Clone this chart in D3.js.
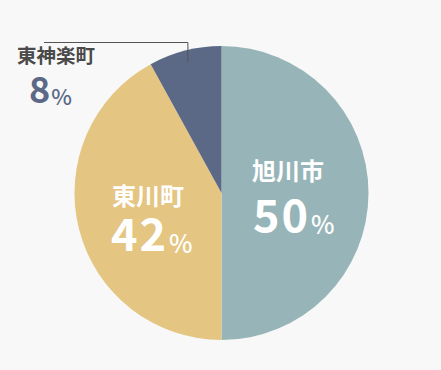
<!DOCTYPE html>
<html>
<head>
<meta charset="utf-8">
<script src="https://cdn.jsdelivr.net/npm/d3@7"></script>
<style>
  html, body { margin: 0; padding: 0; background: #f8f8f8; }
  svg { display: block; font-family: "Noto Sans CJK JP", "Noto Sans", sans-serif; }
</style>
</head>
<body>
<div id="pieChart"></div>
<script>
var labels = ["旭川市", "東川町", "東神楽町"];
var values = [50, 42, 8];
var colors = ["#97b5b8", "#e5c582", "#5b6986"];

var width = 441, height = 370;
var cx = 221.5, cy = 193, radius = 147;

var svg = d3.select("#pieChart").append("svg").attr("width", width).attr("height", height);
svg.append("rect").attr("width", width).attr("height", height).attr("fill", "#f8f8f8");

var pie = d3.pie().sort(null).value(function(d) { return d; })(values);
var arc = d3.arc().innerRadius(0).outerRadius(radius);

var g = svg.append("g").attr("transform", "translate(" + cx + "," + cy + ")");
g.selectAll("path").data(pie).enter().append("path")
  .attr("d", arc)
  .attr("fill", function(d, i) { return colors[i]; });

// label spots, inside for the big slices, outside with a leader line for the small one
var spots = [
  { x: 252, y: 180, nx: 253, pct: 232, color: "#fff", name: "#fff" },
  { x: 112, y: 205, nx: 111, pct: 251, color: "#fff", name: "#fff" },
  { x: 17, y: 63, nx: 29, pct: 103, color: "#5b6986", name: "#4a4a4a" }
];
var bigSize = [45, 45, 36], smallSize = [25, 25, 22], nameSize = [24, 24, 19.5];

// leader line for the small slice
var mid = (pie[2].startAngle + pie[2].endAngle) / 2;
var lx = cx + Math.sin(mid) * radius * 0.92;
var ly = cy - Math.cos(mid) * radius * 0.92;
svg.append("path")
  .attr("d", "M44,42.5H" + lx.toFixed(1) + "V" + ly.toFixed(1))
  .attr("fill", "none").attr("stroke", "#555").attr("stroke-width", 1);

pie.forEach(function(d, i) {
  var s = spots[i];
  svg.append("text").attr("x", s.x).attr("y", s.y)
    .attr("fill", s.name).attr("font-weight", 700).attr("font-size", nameSize[i])
    .text(labels[i]);
  var t = svg.append("text").attr("x", s.nx).attr("y", s.pct)
    .attr("fill", s.color).attr("font-weight", 700);
  t.append("tspan").attr("font-size", bigSize[i]).attr("letter-spacing", i < 2 ? 2 : 0).text(values[i]);
  t.append("tspan").attr("font-size", smallSize[i]).attr("font-weight", 500)
    .attr("dx", 1).attr("dy", 2).text("%");
});
</script>
</body>
</html>
